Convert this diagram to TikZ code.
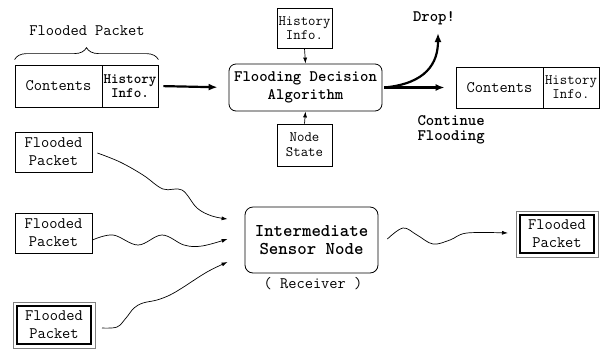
\documentclass[tikz,border=0pt]{standalone}
\usepackage{fontspec}
\usetikzlibrary{arrows.meta,decorations.pathreplacing}
\begin{document}
\begin{tikzpicture}[x=1pt,y=-1pt,
  box/.style={draw, line width=0.8pt, inner sep=0pt, align=center},
  tA/.style={font=\ttfamily\fontsize{16}{18}\selectfont},
  tH/.style={font=\ttfamily\fontsize{14.4}{14}\selectfont},
  tHb/.style={font=\ttfamily\bfseries\fontsize{14.4}{14}\selectfont},
  tB/.style={font=\ttfamily\bfseries\fontsize{16}{18}\selectfont},
  tBB/.style={font=\ttfamily\bfseries\fontsize{18}{18}\selectfont},
  thin arrow/.style={-{Latex[length=6pt,width=4pt]}, line width=0.7pt},
  thick arrow/.style={-{Latex[length=9pt,width=7pt]}, line width=2.2pt},
  wave/.style={-{Latex[length=6pt,width=4pt]}, line width=0.7pt},
  dblbox/.style={draw, line width=2pt, inner sep=0pt, align=center, minimum width=74, minimum height=38},
  graybox/.style={draw=gray, line width=0.9pt}
]
\useasboundingbox (0,0) rectangle (608,349);

% top-left packet
\node[box, tA, minimum width=87, minimum height=42] (lc) at (58.5,86) {Contents};
\node[box, tHb, minimum width=56, minimum height=42] (lh) at (130,86) {History\\Info.};
\draw[line width=0.7pt, decorate, decoration={brace, amplitude=12pt}] (lc.north west) ++(0,-5) coordinate (bl) (lh.north east) ++(0,-5) coordinate (br) (bl) -- (br);
\node[tA] (fplabel) at (87,31) {Flooded Packet};

% decision
\node[box, tB, rounded corners=7pt, minimum width=153, minimum height=47] (dec) at (305.5,87.5) {Flooding Decision\\Algorithm};
\node[box, tH, minimum width=55, minimum height=40] (hi) at (304.5,28) {History\\Info.};
\node[box, minimum width=55, minimum height=42, font=\ttfamily\fontsize{14.4}{15}\selectfont] (ns) at (304.5,145) {Node\\State};
\draw[thin arrow] (hi.south) -- (dec.north);
\draw[thin arrow] (ns.north) -- (dec.south);
\draw[thick arrow, shorten <=5pt, shorten >=11pt] (lh.east) -- (dec.west);

% right packet
\node[box, tA, minimum width=87, minimum height=41] (rc) at (499.5,87.5) {Contents};
\node[box, tH, minimum width=56, minimum height=41] (rh) at (571,87.5) {History\\Info.};
\node[tB] (drop) at (434,18) {Drop!};
\coordinate (dropend) at (438,33);
\draw[thick arrow] ([xshift=2pt]dec.east) .. controls +(42,-4) and +(0,30) .. (dropend);
\draw[thick arrow, shorten >=11pt] ([xshift=2pt]dec.east) -- (dec.east -| rc.west);
\node[anchor=west, align=left, font=\ttfamily\bfseries\fontsize{16}{15}\selectfont] (cont) at (414,129.5) {Continue\\Flooding};

% bottom
\node[box, tA, minimum width=77, minimum height=40] (p1) at (53.5,152) {Flooded\\Packet};
\node[box, tA, minimum width=77, minimum height=40] (p2) at (53.5,233) {Flooded\\Packet};
\node[dblbox, tA] (p3) at (54,325) {Flooded\\Packet};
\draw[graybox] ([shift={(-3,3)}]p3.south west) rectangle ([shift={(3,-3)}]p3.north east);

\node[box, tBB, rounded corners=8pt, minimum width=133, minimum height=66] (isn) at (311.5,240) {Intermediate\\Sensor Node};
\node[tA] (recv) at (313,284) {( Receiver )};

\node[dblbox, tA] (p4) at (557,234) {Flooded\\Packet};
\draw[graybox] ([shift={(-3,3)}]p4.south west) rectangle ([shift={(3,-3)}]p4.north east);

\draw[wave] plot[smooth, tension=0.6] coordinates {([shift={(5,1)}]p1.east) (120,162) (143,175) (163,189) (182,190) (197,208) (212,216) ([shift={(-17,-21)}]isn.west)};
\draw[wave] plot[smooth, tension=0.6] coordinates {([shift={(0,7)}]p2.east) (113,235) (138,245) (162,235) (184,245) (202,246) ([shift={(-17,-1)}]isn.west)};
\draw[wave] plot[smooth, tension=0.6] coordinates {([shift={(10,3)}]p3.east) (117,327) (126,318) (134,308) (143,303) (157,300) (170,295) (182,288) (207,272) ([shift={(-17,22)}]isn.west)};
\draw[wave] plot[smooth, tension=0.6] coordinates {([shift={(9,-1)}]isn.east) (403,228) (417,235) (433,244) (450,240) (467,233) (508,233)};
\end{tikzpicture}
\end{document}
